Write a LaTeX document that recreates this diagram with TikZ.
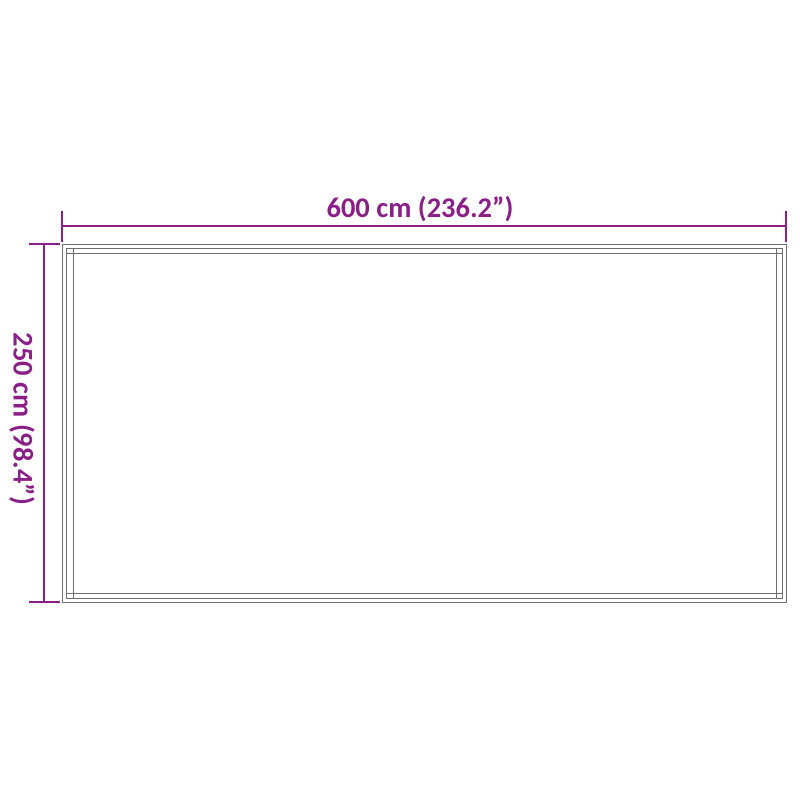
\documentclass[tikz,border=0pt]{standalone}
\usepackage{fontspec}
\setmainfont{Carlito}
\definecolor{dimpurple}{RGB}{139,30,135}
\definecolor{framegray}{RGB}{110,110,110}
\begin{document}
\begin{tikzpicture}[x=1pt,y=-1pt,
  dimline/.style={draw=dimpurple,line width=2.6pt},
  frameline/.style={draw=framegray,line width=0.9pt},
  dimtext/.style={text=dimpurple,font=\fontsize{28.5}{31}\selectfont\bfseries,inner sep=0pt}]
\useasboundingbox (0,0) rectangle (800,800);
% frame
\draw[frameline] (62,244) rectangle (786,602);
\draw[frameline] (66,248) rectangle (782,598);
\draw[frameline] (73,253) rectangle (776,593);
% corner squares
\draw[frameline,line width=0.6pt] (66,248) rectangle (73,253);
\draw[frameline,line width=0.6pt] (776,248) rectangle (782,253);
\draw[frameline,line width=0.6pt] (66,593) rectangle (73,598);
\draw[frameline,line width=0.6pt] (776,593) rectangle (782,598);
% horizontal dimension
\coordinate (hl) at (62,226);
\coordinate (hr) at (786,226);
\coordinate (hlt) at (62,211);
\coordinate (hlb) at (62,242);
\coordinate (hrt) at (786,211);
\coordinate (hrb) at (786,242);
\draw[dimline] (hl) -- (hr);
\draw[dimline] (hlt) -- (hlb);
\draw[dimline] (hrt) -- (hrb);
\node[dimtext] (wtxt) at (420,209) {600 cm (236.2”)};
% vertical dimension
\coordinate (vt) at (44,244);
\coordinate (vb) at (44,602);
\coordinate (vtl) at (29,244);
\coordinate (vtr) at (60,244);
\coordinate (vbl) at (29,602);
\coordinate (vbr) at (60,602);
\draw[dimline] (vt) -- (vb);
\draw[dimline] (vtl) -- (vtr);
\draw[dimline] (vbl) -- (vbr);
\node[dimtext,rotate=-90] (htxt) at (22,419) {250 cm (98.4”)};
\end{tikzpicture}
\end{document}
